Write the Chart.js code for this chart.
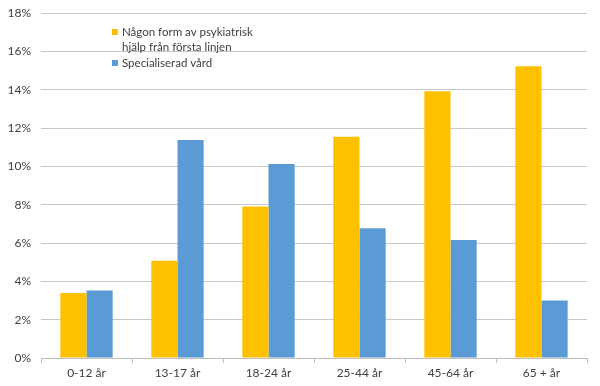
<!DOCTYPE html>
<html>
<head>
<meta charset="utf-8">
<script src="https://cdn.jsdelivr.net/npm/chart.js@4/dist/chart.umd.min.js"></script>
<style>
  html, body { margin: 0; padding: 0; background: #fff; }
  #wrap { width: 600px; height: 386px; position: relative; }
</style>
</head>
<body>
<div id="wrap"><canvas id="myPlot"></canvas></div>
<script>
const xValues = ["0-12 år", "13-17 år", "18-24 år", "25-44 år", "45-64 år", "65 + år"];
const firstLine = [3.39, 5.07, 7.9, 11.54, 13.92, 15.22];
const specialist = [3.52, 11.37, 10.12, 6.77, 6.16, 3.0];
const seriesNames = [["Någon form av psykiatrisk", "hjälp från första linjen"], ["Specialiserad vård"]];
const barColors = ["#FFC000", "#5B9BD5"];

const fontName = "Lato, 'Open Sans', sans-serif";

// legend sits inside the plot, text wraps onto two lines
const insideLegend = {
  id: "insideLegend",
  afterDraw(chart) {
    const ctx = chart.ctx;
    ctx.save();
    ctx.font = "11.5px " + fontName;
    ctx.textBaseline = "middle";
    let y = 32;
    for (let i = 0; i < seriesNames.length; i++) {
      ctx.fillStyle = barColors[i];
      ctx.fillRect(112, y - 3, 6, 6);
      ctx.fillStyle = "#404040";
      for (let j = 0; j < seriesNames[i].length; j++) {
        ctx.fillText(seriesNames[i][j], 122, y);
        y += 15.5;
      }
    }
    ctx.restore();
  }
};

new Chart("myPlot", {
  type: "bar",
  data: {
    labels: xValues,
    datasets: [{
      label: seriesNames[0].join(" "),
      backgroundColor: barColors[0],
      data: firstLine
    }, {
      label: seriesNames[1].join(" "),
      backgroundColor: barColors[1],
      data: specialist
    }]
  },
  plugins: [insideLegend],
  options: {
    responsive: true,
    maintainAspectRatio: false,
    animation: false,
    layout: {padding: {top: 13, right: 13, left: 0, bottom: 0}},
    plugins: {
      legend: {display: false},
      tooltip: {enabled: false}
    },
    datasets: {
      bar: {categoryPercentage: 0.575, barPercentage: 1}
    },
    scales: {
      x: {
        grid: {drawOnChartArea: false, tickLength: 5, color: "#bfbfbf"},
        border: {color: "#bfbfbf"},
        ticks: {color: "#404040", font: {family: fontName, size: 12}, padding: 3},
        afterFit(scale) { scale.height = 28; }
      },
      y: {
        min: 0,
        max: 18,
        border: {display: false},
        grid: {color: "#c8c8c8", drawTicks: false},
        ticks: {
          stepSize: 2,
          color: "#404040",
          font: {family: fontName, size: 12},
          padding: 10,
          callback: v => v + "%"
        },
        afterFit(scale) {
          scale.width = 41;
          scale.paddingTop = 0;
          scale.paddingBottom = 0;
        }
      }
    }
  }
});
</script>
</body>
</html>
